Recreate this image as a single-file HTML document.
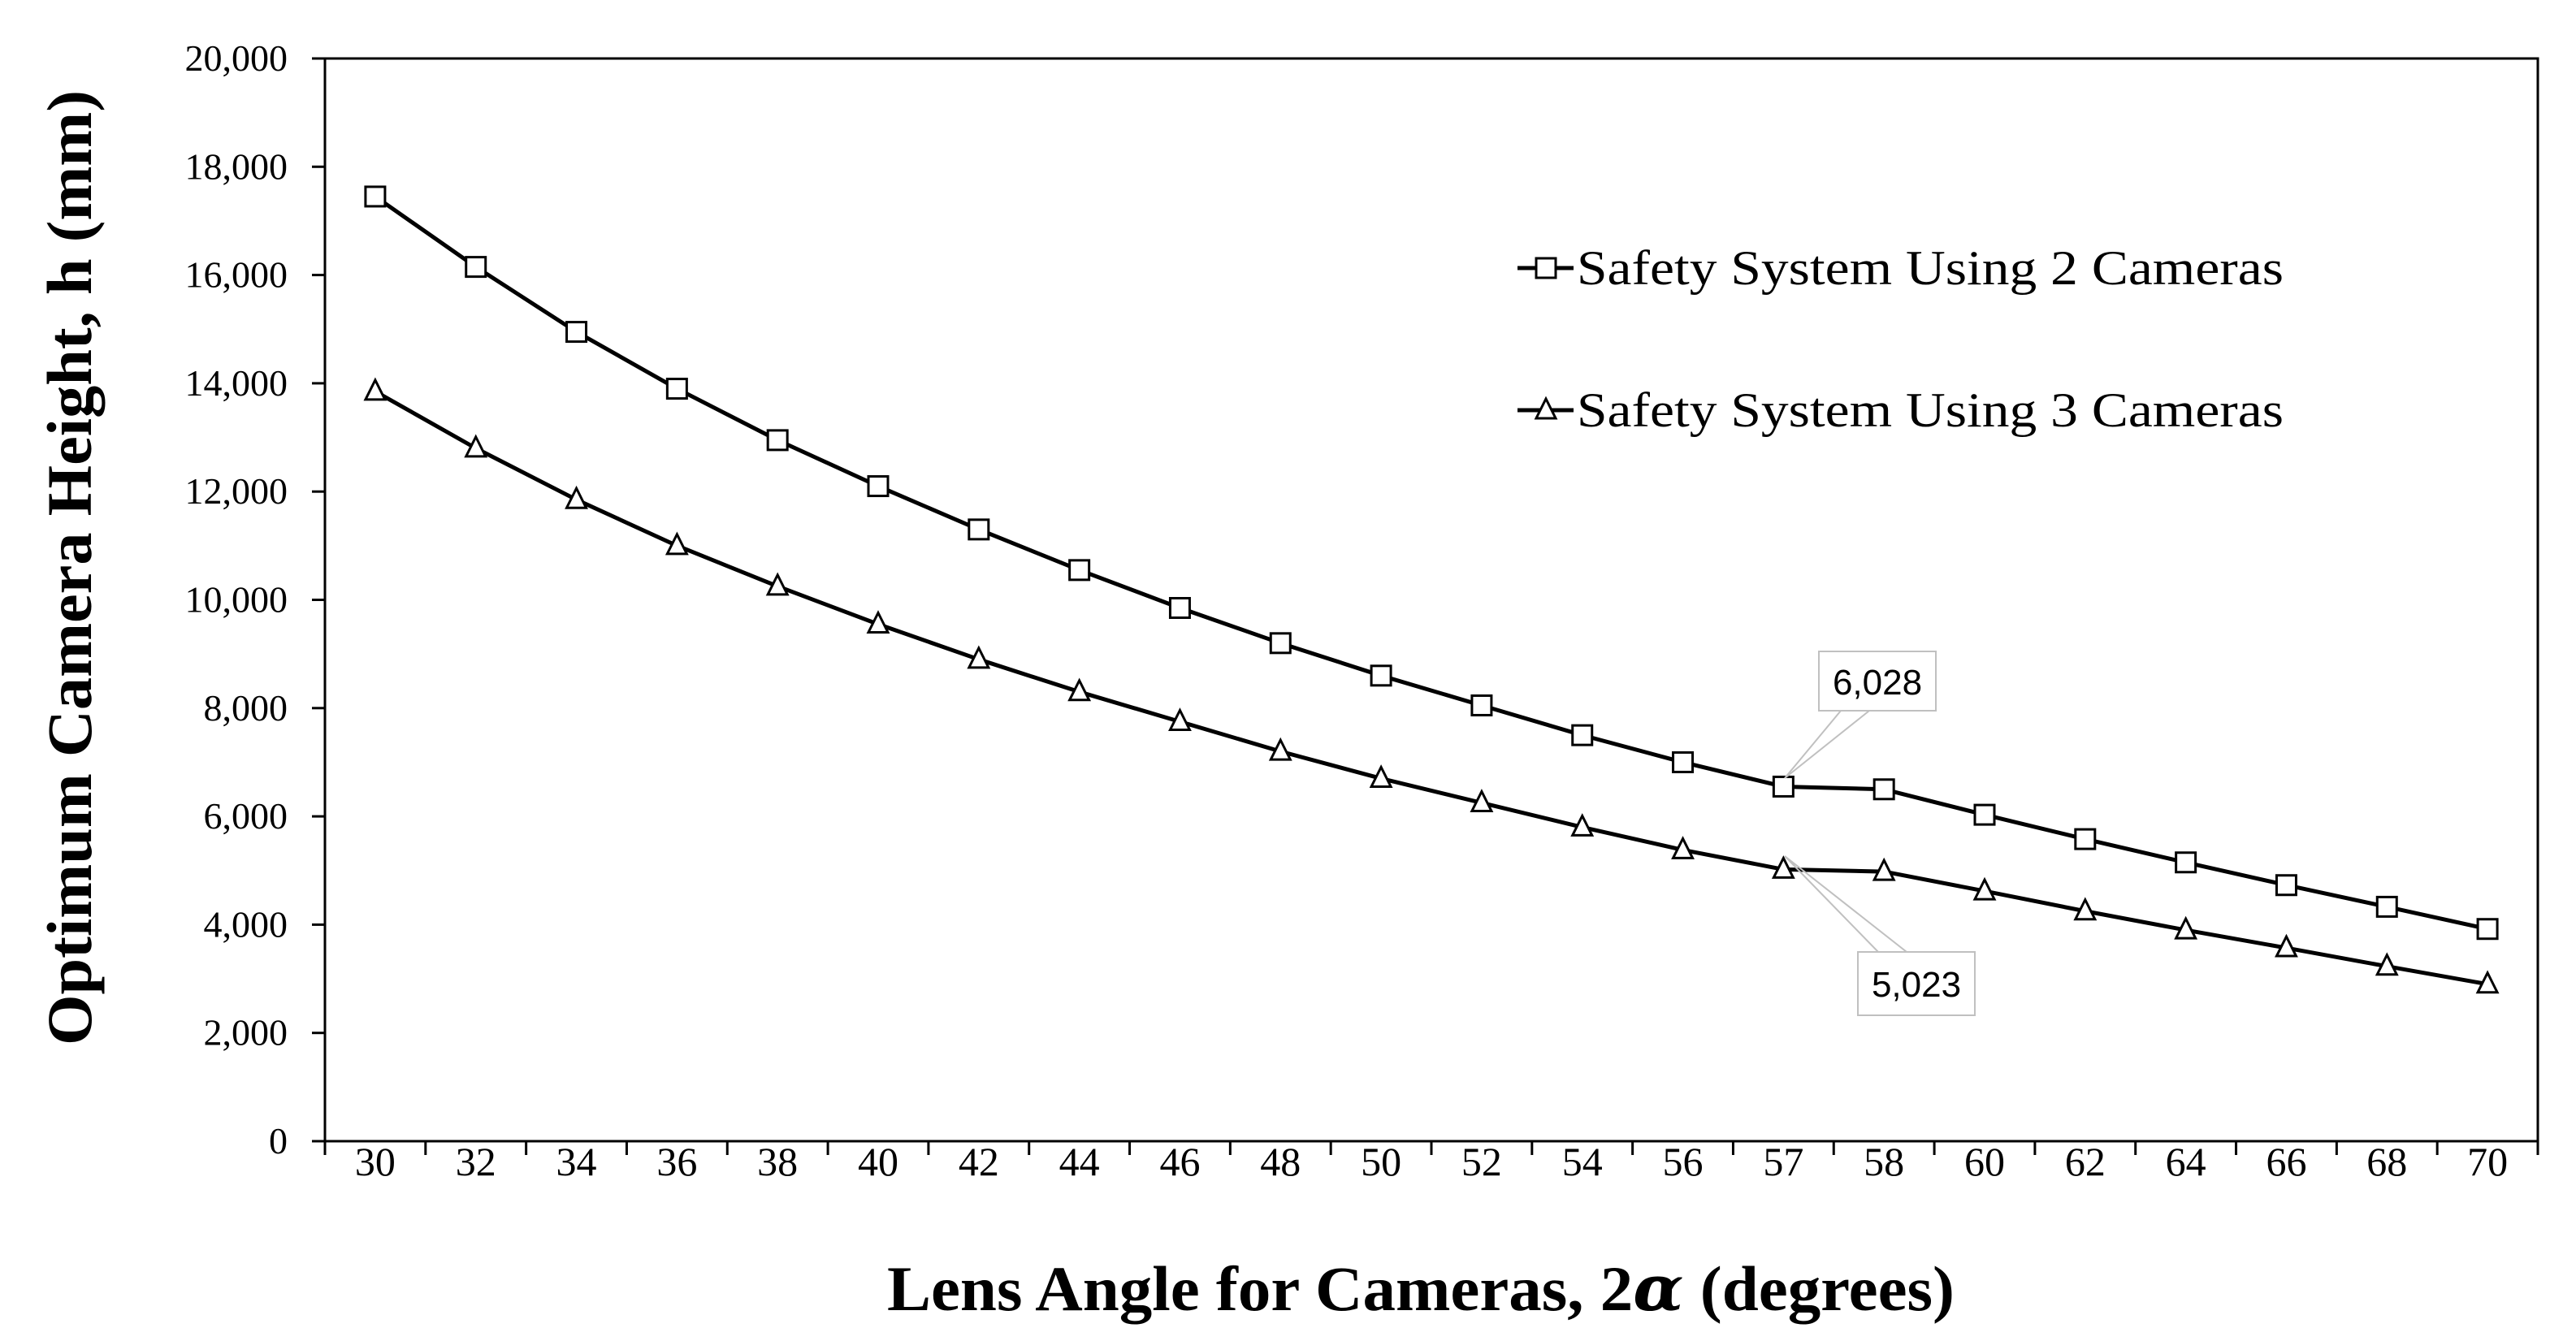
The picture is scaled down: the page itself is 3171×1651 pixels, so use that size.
<!DOCTYPE html>
<html><head><meta charset="utf-8"><style>
html,body{margin:0;padding:0;background:#fff;}
svg{display:block;}
</style></head><body>
<svg id="chart" width="3171" height="1651" viewBox="0 0 3171 1651" xmlns="http://www.w3.org/2000/svg">
<rect x="0" y="0" width="3171" height="1651" fill="#fff"/>
<g id="axes"></g>
<g id="series"></g>
<g id="callouts">
  <g>
    <polygon points="2266,875 2301,875 2197,958" fill="none" stroke="#c0c0c0" stroke-width="2"/>
    <rect x="2239" y="802" width="144" height="73" fill="#fff" stroke="#c0c0c0" stroke-width="2"/>
    <text x="2311" y="855" font-family="Liberation Sans, sans-serif" font-size="44" text-anchor="middle" fill="#000">6,028</text>
  </g>
  <g>
    <polygon points="2312,1172 2347,1172 2197,1054" fill="none" stroke="#c0c0c0" stroke-width="2"/>
    <rect x="2287" y="1172" width="144" height="78" fill="#fff" stroke="#c0c0c0" stroke-width="2"/>
    <text x="2359" y="1227" font-family="Liberation Sans, sans-serif" font-size="44" text-anchor="middle" fill="#000">5,023</text>
  </g>
</g>
<g id="legend">
  <g>
    <line x1="1868" y1="330" x2="1937" y2="330" stroke="#000" stroke-width="5"/>
    <rect x="1891" y="318" width="24" height="24" fill="#fff" stroke="#000" stroke-width="3"/>
    <text x="1941" y="350" font-family="Liberation Serif, serif" font-size="60" textLength="870" lengthAdjust="spacingAndGlyphs" fill="#000">Safety System Using 2 Cameras</text>
  </g>
  <g>
    <line x1="1868" y1="505" x2="1937" y2="505" stroke="#000" stroke-width="5"/>
    <polygon points="1903,491 1915,515 1891,515" fill="#fff" stroke="#000" stroke-width="3"/>
    <text x="1941" y="525" font-family="Liberation Serif, serif" font-size="60" textLength="870" lengthAdjust="spacingAndGlyphs" fill="#000">Safety System Using 3 Cameras</text>
  </g>
</g>
<text x="1749" y="1613" font-family="Liberation Serif, serif" font-weight="bold" font-size="78" text-anchor="middle" textLength="1314" lengthAdjust="spacingAndGlyphs" fill="#000">Lens Angle for Cameras, 2<tspan font-style="italic" font-family="DejaVu Serif, serif">α</tspan> (degrees)</text>
<text transform="translate(112,699) rotate(-90)" x="0" y="0" font-family="Liberation Serif, serif" font-weight="bold" font-size="78" text-anchor="middle" textLength="1176" lengthAdjust="spacingAndGlyphs" fill="#000">Optimum Camera Height, h (mm)</text>
</svg>
<script>
const categories = ["30","32","34","36","38","40","42","44","46","48","50","52","54","56","57","58","60","62","64","66","68","70"];
const twoCameras = [17450,16150,14950,13900,12950,12100,11300,10550,9850,9200,8600,8050,7500,7000,6550,6500,6030,5580,5150,4730,4330,3920];
const threeCameras = [13850,12800,11850,11000,10250,9550,8900,8300,7750,7200,6700,6250,5800,5380,5020,4980,4620,4250,3900,3570,3230,2900];
const yTicks = [0,2000,4000,6000,8000,10000,12000,14000,16000,18000,20000];
const yTickLabels = ["0","2,000","4,000","6,000","8,000","10,000","12,000","14,000","16,000","18,000","20,000"];

const NS = "http://www.w3.org/2000/svg";
const L = 400, R = 3124, T = 72, B = 1405, YMAX = 20000;
const band = (R - L) / categories.length;
function xScale(i){ return L + band * (i + 0.5); }
function yScale(v){ return B - (v / YMAX) * (B - T); }
function mk(tag, attrs, parent){ const e = document.createElementNS(NS, tag); for (const k in attrs) e.setAttribute(k, attrs[k]); parent.appendChild(e); return e; }

const axes = document.getElementById('axes');
const frame = mk('path', {d:`M${L},${T} H${R} V${B} H${L} Z`, fill:'none', stroke:'#000', 'stroke-width':3}, axes);


yTicks.forEach((v, i) => {
  const y = yScale(v);
  const t = mk('line', {x1:L-16, y1:y, x2:L, y2:y, stroke:'#000', 'stroke-width':3}, axes);
  
  
  const lb = mk('text', {x:354, y:y+15, 'font-family':'Liberation Serif, serif', 'font-size':46, 'text-anchor':'end', fill:'#000'}, axes);
  lb.textContent = yTickLabels[i];
  
  
});
for (let i = 0; i <= categories.length; i++) {
  const x = L + band * i;
  const t = mk('line', {x1:x, y1:B, x2:x, y2:B+17, stroke:'#000', 'stroke-width':3}, axes);
  
  
}
categories.forEach((c, i) => {
  const lb = mk('text', {x:xScale(i), y:1447, 'font-family':'Liberation Serif, serif', 'font-size':50, 'text-anchor':'middle', fill:'#000'}, axes);
  lb.textContent = c;
  
  
});

const series = document.getElementById('series');
function drawSeries(vals, name, marker){
  const g = mk('g', {}, series);
  
  
  const pts = vals.map((v, i) => xScale(i) + ',' + yScale(v)).join(' ');
  const pl = mk('polyline', {points:pts, fill:'none', stroke:'#000', 'stroke-width':5, 'stroke-linejoin':'round'}, g);
  
  
  vals.forEach((v, i) => {
    const x = xScale(i), y = yScale(v);
    let m;
    if (marker === 'square') {
      m = mk('rect', {x:x-12, y:y-12, width:24, height:24, fill:'#fff', stroke:'#000', 'stroke-width':3}, g);
    } else {
      m = mk('polygon', {points:`${x},${y-14} ${x+12},${y+10} ${x-12},${y+10}`, fill:'#fff', stroke:'#000', 'stroke-width':3}, g);
    }
    
    
  });
}
drawSeries(twoCameras, 'series-2-cameras', 'square');
drawSeries(threeCameras, 'series-3-cameras', 'triangle');
</script>
</body></html>
